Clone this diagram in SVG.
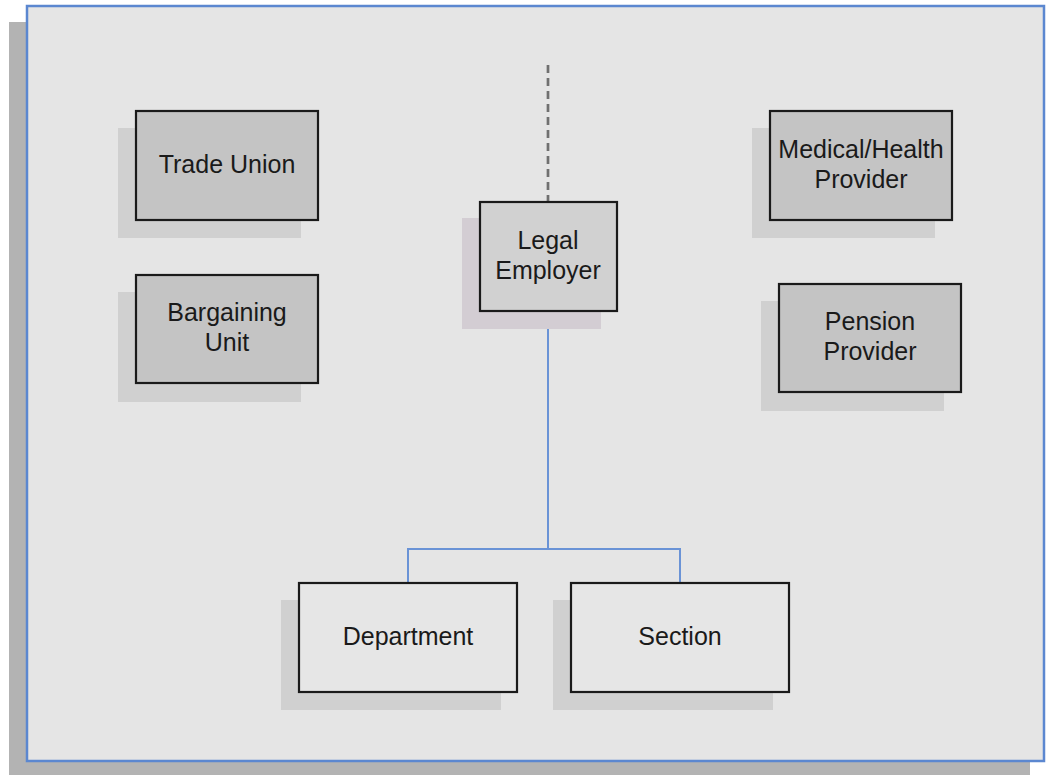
<svg xmlns="http://www.w3.org/2000/svg" width="1047" height="775" viewBox="0 0 1047 775">
<style>
.sh{fill:#d0d0d0}
.box{stroke:#1a1a1a;stroke-width:2.2}
.dark{fill:#c4c4c4}
.mid{fill:#d1d1d1}
.light{fill:#e6e6e6}
text{font-family:"Liberation Sans",Arial,sans-serif;font-size:25px;fill:#1a1a1a;text-anchor:middle}
.conn{fill:none;stroke:#6a93d6;stroke-width:2}
</style>
<rect x="0" y="0" width="1047" height="775" fill="#ffffff"/>
<rect x="9" y="22" width="1021" height="753" fill="#b3b3b3"/>
<rect x="27" y="6" width="1017" height="755" fill="#e5e5e5" stroke="#5b87d0" stroke-width="2.5"/>
<g id="connectors">
<line x1="548" y1="65" x2="548" y2="202" stroke="#707070" stroke-width="2.7" stroke-dasharray="8,5"/>
<path class="conn" d="M548,311 V549 M408,583 V549 H680 V583"/>
</g>
<g id="trade-union">
<rect class="sh" x="118" y="128" width="183" height="110"/>
<rect class="box dark" x="136" y="111" width="182" height="109"/>
<text x="227" y="173">Trade Union</text>
</g>
<g id="bargaining-unit">
<rect class="sh" x="118" y="292" width="183" height="110"/>
<rect class="box dark" x="136" y="275" width="182" height="108"/>
<text x="227" y="321">Bargaining</text>
<text x="227" y="351">Unit</text>
</g>
<g id="legal-employer">
<rect x="462" y="218" width="139" height="111" fill="#d3cdd3"/>
<rect class="box mid" x="480" y="202" width="137" height="109"/>
<text x="548" y="249">Legal</text>
<text x="548" y="279">Employer</text>
</g>
<g id="medical-health-provider">
<rect class="sh" x="752" y="128" width="183" height="110"/>
<rect class="box dark" x="770" y="111" width="182" height="109"/>
<text x="861" y="158">Medical/Health</text>
<text x="861" y="188">Provider</text>
</g>
<g id="pension-provider">
<rect class="sh" x="761" y="301" width="183" height="110"/>
<rect class="box dark" x="779" y="284" width="182" height="108"/>
<text x="870" y="330">Pension</text>
<text x="870" y="360">Provider</text>
</g>
<g id="department">
<rect class="sh" x="281" y="600" width="220" height="110"/>
<rect class="box light" x="299" y="583" width="218" height="109"/>
<text x="408" y="645">Department</text>
</g>
<g id="section">
<rect class="sh" x="553" y="600" width="220" height="110"/>
<rect class="box light" x="571" y="583" width="218" height="109"/>
<text x="680" y="645">Section</text>
</g>
</svg>
